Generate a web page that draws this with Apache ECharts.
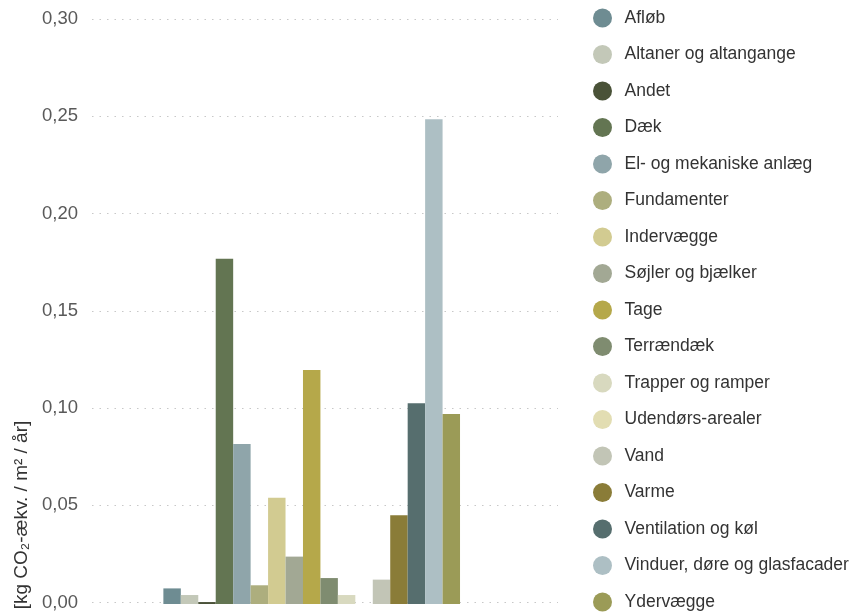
<!DOCTYPE html>
<html>
<head>
<meta charset="utf-8">
<script src="https://cdn.jsdelivr.net/npm/echarts@6/dist/echarts.min.js"></script>
<style>
html,body{margin:0;padding:0;background:#fff;}
#chart{width:854px;height:612px;}
</style>
</head>
<body>
<div id="chart"></div>
<script>
const seriesNames = ["Afløb","Altaner og altangange","Andet","Dæk","El- og mekaniske anlæg","Fundamenter","Indervægge","Søjler og bjælker","Tage","Terrændæk","Trapper og ramper","Udendørs-arealer","Vand","Varme","Ventilation og køl","Vinduer, døre og glasfacader","Ydervægge"];
const seriesValues = [0.008,0.0046,0.001,0.177,0.082,0.0096,0.0545,0.0243,0.12,0.0133,0.0046,0,0.0125,0.0455,0.103,0.2486,0.0975];
const seriesColors = ["#6E8C92","#C3C8B8","#4A5238","#637552","#8FA5AA","#ADAE7E","#D2CB91","#A2A894","#B5A84A","#7F8C70","#D8D9BF","#E2DDB2","#C2C5B6","#8A7C38","#566E6E","#ADBFC4","#9B9B57"];
const categories = [""];
const yTicks = {min:0, max:0.30, interval:0.05};
const yAxisTitle = "[kg CO\u2082-ækv. / m² / år]";

const chart = echarts.init(document.getElementById('chart'), null, {renderer:'canvas'});
const fmt = v => v.toFixed(2).replace('.', ',');
const FONT = 'Liberation Sans, Arial, sans-serif';

const series = seriesNames.map((n,i)=>({
  name:n, type:'bar', xAxisIndex:0, yAxisIndex:0,
  data:[seriesValues[i]],
  barWidth:17.45, barGap:'0%',
  itemStyle:{color:seriesColors[i]},
  emphasis:{disabled:true}
}));

chart.setOption({
  animation:false,
  backgroundColor:'#fff',
  grid:[
    {left:92, top:19, bottom:8, width:439.4},
    {left:92, top:19, bottom:8, right:296}
  ],
  xAxis:[
    {gridIndex:0, type:'category', data:categories, show:false},
    {gridIndex:1, type:'category', data:categories, show:false}
  ],
  yAxis:[
    {gridIndex:0, type:'value', min:yTicks.min, max:yTicks.max, interval:yTicks.interval, show:false, splitLine:{show:false}},
    {gridIndex:1, type:'value', min:yTicks.min, max:yTicks.max, interval:yTicks.interval,
     axisLine:{show:false}, axisTick:{show:false},
     axisLabel:{formatter:fmt, color:'#595959', fontSize:18.5, margin:14, fontFamily:FONT},
     splitLine:{show:true, lineStyle:{color:'#c8c8c8', width:1.2, type:[1.5,6]}}}
  ],
  legend:{
    orient:'vertical', left:593, top:8.5, padding:0,
    icon:'circle', itemWidth:34, itemHeight:19, itemGap:17.5,
    textStyle:{color:'#333', fontSize:17.5, fontFamily:FONT},
    data:seriesNames.map((n,i)=>({name:n, itemStyle:{color:seriesColors[i]}})),
    selectedMode:false
  },
  graphic:[{
    type:'text', x:22, y:515, rotation:Math.PI/2,
    style:{text:yAxisTitle, fill:'#333', fontSize:19, fontFamily:FONT, align:'center', verticalAlign:'middle'}
  }],
  series:series
});
</script>
</body>
</html>
